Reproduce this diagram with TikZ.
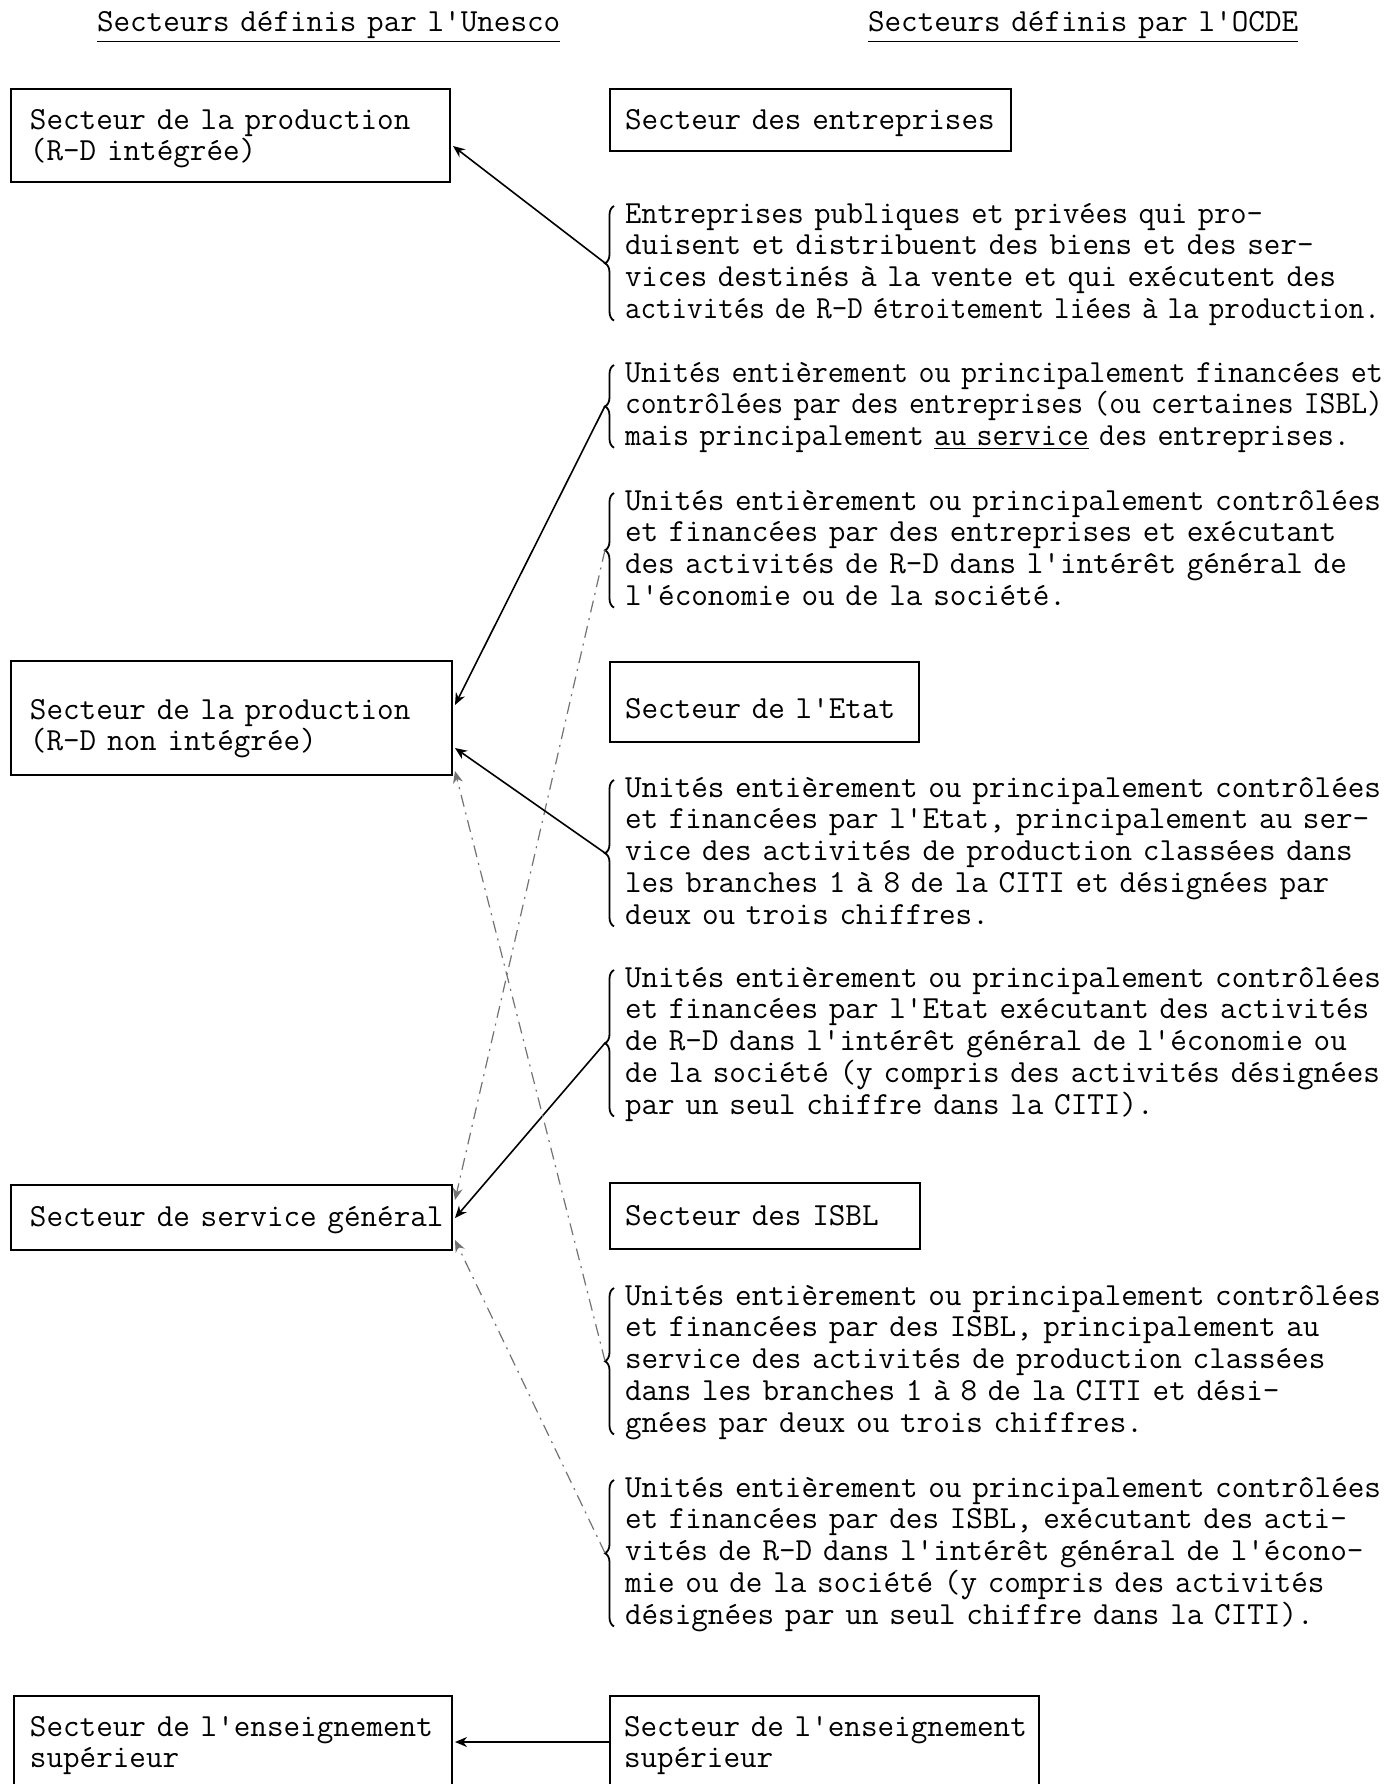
\documentclass[tikz,border=0pt]{standalone}
\usepackage{graphicx}
\usetikzlibrary{decorations.pathreplacing,arrows.meta,calc}
\newcommand\sqz[2]{\resizebox{#1pt}{\height}{#2}}
\begin{document}
\begin{tikzpicture}[x=0.5pt,y=-0.5pt,
  box/.style={draw, line width=0.7pt, inner sep=0pt, outer sep=0pt, anchor=north west},
  openbox/.style={inner sep=0pt, outer sep=0pt, anchor=north west},
  txt/.style={anchor=base west, inner sep=0pt, outer sep=0pt, text width=420pt, align=left,
              font=\ttfamily\fontsize{16.1}{15.93}\selectfont},
  brc/.style={decorate, decoration={brace, amplitude=4.5pt}, line width=0.9pt},
  solidarr/.style={-{Stealth[length=6pt,width=5pt]}, line width=0.8pt},
  faintarr/.style={-{Stealth[length=6pt,width=5pt]}, line width=0.6pt, black!55,
                   dash pattern=on 6pt off 3pt on 1pt off 3pt}]
\useasboundingbox (0,0) rectangle (1397,1784);
\fill[white] (0,0) rectangle (1397,1784);

% headers
\node[txt] (h1) at (97,31) {\underline{Secteurs définis par l'Unesco}};
\node[txt] (h2) at (868,31) {\underline{Secteurs définis par l'OCDE}};

% Unesco boxes
\node[box, minimum width=219.5pt, minimum height=46.5pt] (L1) at (11,89) {};
\node[txt] (L1t) at (30,129) {Secteur de la production\\(R-D intégrée)};
\node[box, minimum width=220.5pt, minimum height=57pt] (L2) at (11,661) {};
\node[txt] (L2t) at (30,719) {Secteur de la production\\(R-D non intégrée)};
\node[box, minimum width=220.5pt, minimum height=32.5pt] (L3) at (11,1185) {};
\node[txt] (L3t) at (30,1226) {Secteur de service général};
\node[openbox, minimum width=219pt, minimum height=50pt] (L4) at (14,1696) {};
\draw[line width=0.7pt] (L4.south west) -- (L4.north west) -- (L4.north east) -- (L4.south east);
\node[txt] (L4t) at (30,1736) {Secteur de l'enseignement\\supérieur};

% OCDE boxes
\node[box, minimum width=200.5pt, minimum height=31pt] (R1) at (610,89) {};
\node[txt] (R1t) at (625,129) {Secteur des entreprises};
\node[box, minimum width=154.5pt, minimum height=40pt] (R2) at (610,662) {};
\node[txt] (R2t) at (625,718) {Secteur de l'Etat};
\node[box, minimum width=155pt, minimum height=33pt] (R3) at (610,1183) {};
\node[txt] (R3t) at (625,1225) {Secteur des ISBL};
\node[openbox, minimum width=214.5pt, minimum height=50pt] (R4) at (610,1696) {};
\draw[line width=0.7pt] (R4.south west) -- (R4.north west) -- (R4.north east) -- (R4.south east);
\node[txt] (R4t) at (624,1736) {Secteur de l'enseignement\\supérieur};

% text blocks
\node[txt] (b1) at (625,223) {\sqz{319}{Entreprises publiques et privées qui pro-}\\
duisent et distribuent des biens et des ser-\\
\sqz{355.5}{vices destinés à la vente et qui exécutent des}\\
\sqz{377.5}{activités de R-D étroitement liées à la production.}};
\node[txt] (b2) at (625,382) {\sqz{379}{Unités entièrement ou principalement financées et}\\
\sqz{379}{contrôlées par des entreprises (ou certaines ISBL)}\\
\sqz{362.5}{mais principalement \underline{au service} des entreprises.}};
\node[txt] (b3) at (625,510) {Unités entièrement ou principalement contrôlées\\
et financées par des entreprises et exécutant\\
des activités de R-D dans l'intérêt général de\\
l'économie ou de la société.};
\node[txt] (b4) at (625,797) {Unités entièrement ou principalement contrôlées\\
et financées par l'Etat, principalement au ser-\\
vice des activités de production classées dans\\
les branches 1 à 8 de la CITI et désignées par\\
deux ou trois chiffres.};
\node[txt] (b5) at (625,987) {Unités entièrement ou principalement contrôlées\\
et financées par l'Etat exécutant des activités\\
de R-D dans l'intérêt général de l'économie ou\\
\sqz{377.5}{de la société (y compris des activités désignées}\\
par un seul chiffre dans la CITI).};
\node[txt] (b6) at (625,1305) {Unités entièrement ou principalement contrôlées\\
et financées par des ISBL, principalement au\\
service des activités de production classées\\
dans les branches 1 à 8 de la CITI et dési-\\
gnées par deux ou trois chiffres.};
\node[txt] (b7) at (625,1497) {Unités entièrement ou principalement contrôlées\\
et financées par des ISBL, exécutant des acti-\\
vités de R-D dans l'intérêt général de l'écono-\\
mie ou de la société (y compris des activités\\
désignées par un seul chiffre dans la CITI).};

% braces
\draw[brc] (614,320.6) -- (614,206);
\draw[brc] (614,447.7) -- (614,365);
\draw[brc] (614,607.6) -- (614,493);
\draw[brc] (614,926.4) -- (614,780);
\draw[brc] (614,1116.4) -- (614,970);
\draw[brc] (614,1434.4) -- (614,1288);
\draw[brc] (614,1626.4) -- (614,1480);
\coordinate (t1) at (605,263);
\coordinate (t2) at (605,406);
\coordinate (t3) at (605,550);
\coordinate (t4) at (605,853);
\coordinate (t5) at (605,1043);
\coordinate (t6) at (605,1361);
\coordinate (t7) at (605,1553);

% connectors
\draw[solidarr] (t1) -- ($(L1.north east)+(3,57)$);
\draw[solidarr] (t2) -- ($(L2.north east)+(3,44)$);
\draw[faintarr] (t3) -- ($(L3.north east)+(3,15)$);
\draw[solidarr] (t4) -- ($(L2.north east)+(3,87)$);
\draw[solidarr] (t5) -- ($(L3.north east)+(3,33)$);
\draw[faintarr] (t6) -- ($(L2.north east)+(3,110)$);
\draw[faintarr] (t7) -- ($(L3.north east)+(3,55)$);
\draw[solidarr] ($(R4.north west)+(0,46)$) -- ($(L4.north east)+(3,46)$);
\end{tikzpicture}
\end{document}
